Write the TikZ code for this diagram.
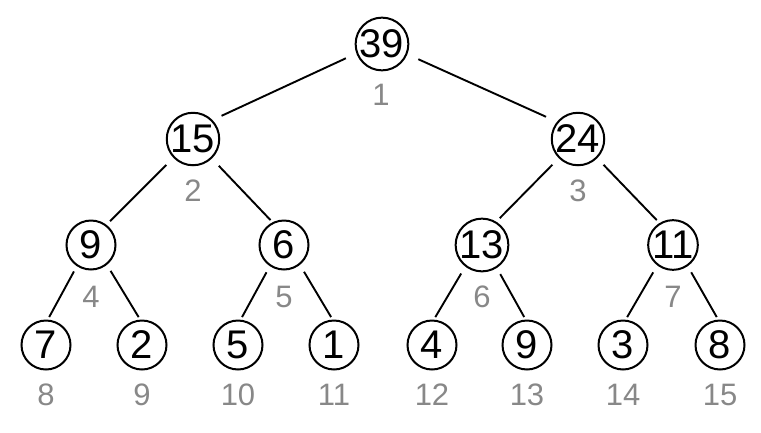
\documentclass[tikz,border=0pt]{standalone}
\usepackage{fontspec}
\setmainfont{Liberation Sans}
\definecolor{idxgray}{RGB}{136,136,136}
\begin{document}
\begin{tikzpicture}[x=1pt,y=-1pt,
  heapnode/.style={circle,draw,line width=2pt,minimum size=49pt,inner sep=0pt,outer sep=0pt,font=\fontsize{40}{42}\selectfont},
  idx/.style={text=idxgray,font=\fontsize{31}{33}\selectfont,inner sep=0pt},
  link/.style={line width=1.9pt}]
\useasboundingbox (0,0) rectangle (761,432);
% nodes
\node[heapnode] (n1) at (382,44) {39};
\node[heapnode] (n2) at (193,139) {15};
\node[heapnode] (n3) at (578,139) {24};
\node[heapnode] (n4) at (91,245) {9};
\node[heapnode] (n5) at (284,245) {6};
\node[heapnode] (n6) at (482,245) {13};
\node[heapnode] (n7) at (673,245) {11};
\node[heapnode] (n8) at (46,345) {7};
\node[heapnode] (n9) at (142,345) {2};
\node[heapnode] (n10) at (238,345) {5};
\node[heapnode] (n11) at (334,345) {1};
\node[heapnode] (n12) at (432,345) {4};
\node[heapnode] (n13) at (527,345) {9};
\node[heapnode] (n14) at (623,345) {3};
\node[heapnode] (n15) at (720,345) {8};
% index labels
\node[idx] (l1) at (381,95) {1};
\node[idx] (l2) at (193,191) {2};
\node[idx] (l3) at (578,191) {3};
\node[idx] (l4) at (91,297) {4};
\node[idx] (l5) at (284,297) {5};
\node[idx] (l6) at (482,297) {6};
\node[idx] (l7) at (673,297) {7};
\node[idx] (l8) at (46,395) {8};
\node[idx] (l9) at (142,395) {9};
\node[idx] (l10) at (238,395) {10};
\node[idx] (l11) at (334,395) {11};
\node[idx] (l12) at (432,395) {12};
\node[idx] (l13) at (527,395) {13};
\node[idx] (l14) at (623,395) {14};
\node[idx] (l15) at (720,395) {15};
% edges
\draw[link,shorten <=12.5pt,shorten >=11pt] (n1.200) -- (n2.45);
\draw[link,shorten <=13pt,shorten >=13pt] (n1.338) -- (n3.140);
\draw[link,shorten <=11pt,shorten >=6pt] (n2.224) -- (n4.53);
\draw[link,shorten <=11pt,shorten >=4pt] (n2.314) -- (n5.116);
\draw[link,shorten <=10pt,shorten >=6pt] (n3.225) -- (n6.59);
\draw[link,shorten <=10pt,shorten >=5pt] (n3.315) -- (n7.121);
\draw[link,shorten <=7pt,shorten >=4pt] (n4.236) -- (n8.87);
\draw[link,shorten <=8pt,shorten >=4pt] (n4.309) -- (n9.93);
\draw[link,shorten <=8pt,shorten >=4pt] (n5.236) -- (n10.85);
\draw[link,shorten <=9pt,shorten >=4pt] (n5.309) -- (n11.92);
\draw[link,shorten <=9pt,shorten >=4pt] (n6.232) -- (n12.87);
\draw[link,shorten <=8pt,shorten >=4pt] (n6.303) -- (n13.92);
\draw[link,shorten <=9pt,shorten >=4pt] (n7.232) -- (n14.85);
\draw[link,shorten <=8pt,shorten >=4pt] (n7.305) -- (n15.93);
\end{tikzpicture}
\end{document}
